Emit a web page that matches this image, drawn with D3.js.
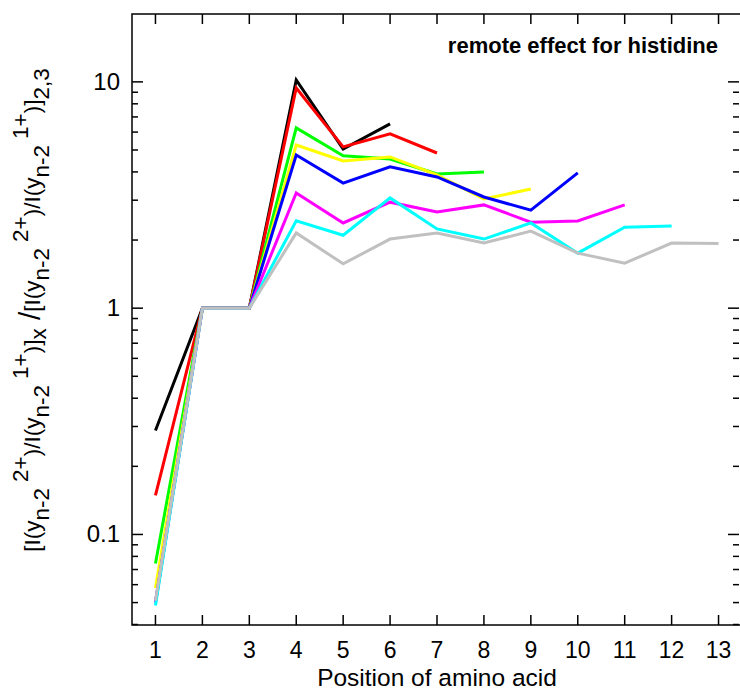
<!DOCTYPE html>
<html>
<head>
<meta charset="utf-8">
<script src="https://cdn.jsdelivr.net/npm/d3@7"></script>
<style>
  body { margin: 0; background: #fff; }
  svg { display: block; font-family: "Liberation Sans", Arial, sans-serif; }
</style>
</head>
<body>
<div id="chart"></div>
<script>
// positions of amino acid on the x axis
const positions = [1, 2, 3, 4, 5, 6, 7, 8, 9, 10, 11, 12, 13];
const xTicks = positions;
const yTicks = [0.1, 1, 10];

// one series per colour, each ending one position later than the previous
const blackVals   = [0.288, 1, 1, 10.2, 5.05, 6.52];
const redVals     = [0.149, 1, 1, 9.4, 5.16, 5.89, 4.85];
const greenVals   = [0.0744, 1, 1, 6.26, 4.71, 4.56, 3.92, 4.0];
const yellowVals  = [0.058, 1, 1, 5.26, 4.47, 4.66, 3.88, 3.04, 3.36];
const blueVals    = [0.050, 1, 1, 4.75, 3.57, 4.21, 3.80, 3.10, 2.71, 3.96];
const magentaVals = [0.050, 1, 1, 3.23, 2.38, 2.94, 2.66, 2.86, 2.40, 2.43, 2.86];
const cyanVals    = [0.0485, 1, 1, 2.43, 2.10, 3.07, 2.24, 2.02, 2.38, 1.75, 2.28, 2.31];
const grayVals    = [0.051, 1, 1, 2.15, 1.57, 2.02, 2.15, 1.94, 2.19, 1.75, 1.58, 1.94, 1.93];

const seriesColors = ["#000000", "#ff0000", "#00ff00", "#ffff00", "#0000ff", "#ff00ff", "#00ffff", "#c0c0c0"];
const seriesVals = [blackVals, redVals, greenVals, yellowVals, blueVals, magentaVals, cyanVals, grayVals];

const width = 740, height = 693;
const m = { left: 132, right: 742, top: 14, bottom: 625 };

const svg = d3.select("#chart").append("svg")
    .attr("width", width)
    .attr("height", height);

const x = d3.scaleLinear().domain([0.5, 13.5]).range([m.left, m.right]);
const y = d3.scaleLog().domain([0.0398, 19.95]).range([m.bottom, m.top]);

// minor log ticks 2..9 in each decade
const minorTicks = [];
[0.01, 0.1, 1, 10].forEach(dec => {
    for (let k = 2; k <= 9; k++) {
        const v = dec * k;
        if (v > y.domain()[0] && v < y.domain()[1]) minorTicks.push(v);
    }
});

const axisG = svg.append("g").attr("stroke", "#000").attr("stroke-width", 1.5);

// x ticks, bottom and top, pointing inward
axisG.append("g").selectAll("line").data(xTicks).join("line")
    .attr("x1", d => x(d)).attr("x2", d => x(d))
    .attr("y1", m.bottom).attr("y2", m.bottom - 10);
axisG.append("g").selectAll("line").data(xTicks).join("line")
    .attr("x1", d => x(d)).attr("x2", d => x(d))
    .attr("y1", m.top).attr("y2", m.top + 10);

// y ticks, left and right
[[m.left, 1], [m.right - 3, -1]].forEach(([x0, dir]) => {
    axisG.append("g").selectAll("line").data(yTicks).join("line")
        .attr("x1", x0).attr("x2", x0 + dir * 11)
        .attr("y1", d => y(d)).attr("y2", d => y(d));
    axisG.append("g").selectAll("line").data(minorTicks).join("line")
        .attr("x1", x0).attr("x2", x0 + dir * 6)
        .attr("y1", d => y(d)).attr("y2", d => y(d));
});

// lines
const line = d3.line()
    .x((d, i) => x(positions[i]))
    .y(d => y(d));

svg.append("g").attr("class", "lines")
    .selectAll("path")
    .data(seriesVals)
    .join("path")
    .attr("d", d => line(d))
    .attr("fill", "none")
    .attr("stroke", (d, i) => seriesColors[i])
    .attr("stroke-width", 3)
    .attr("stroke-linejoin", "miter");

// frame
svg.append("rect")
    .attr("x", m.left).attr("y", m.top)
    .attr("width", m.right - m.left).attr("height", m.bottom - m.top)
    .attr("fill", "none").attr("stroke", "#000").attr("stroke-width", 1.5);

// tick labels
svg.append("g").selectAll("text").data(xTicks).join("text")
    .attr("x", d => x(d)).attr("y", 658)
    .attr("text-anchor", "middle")
    .attr("font-size", 23)
    .text(d => d);

svg.append("g").selectAll("text").data(yTicks).join("text")
    .attr("x", 120).attr("y", d => y(d) + 8)
    .attr("text-anchor", "end")
    .attr("font-size", 24)
    .text(d => d);

svg.append("text")
    .attr("x", 437).attr("y", 686)
    .attr("text-anchor", "middle")
    .attr("font-size", 24.5)
    .text("Position of amino acid");

svg.append("text")
    .attr("x", 718).attr("y", 53)
    .attr("text-anchor", "end")
    .attr("font-size", 22)
    .attr("font-weight", "bold")
    .text("remote effect for histidine");

// y axis label with sub / superscripts
const ylab = svg.append("text")
    .attr("transform", "translate(40,310) rotate(-90)")
    .attr("text-anchor", "middle")
    .attr("font-size", 22.5);

const parts = [
    ["[I(y", 0], ["n-2", 9], ["2+", -12], [")/I(y", 0], ["n-2", 9], ["1+", -12], [")]", 0], ["x", 6],
    [" /", 0],
    ["[I(y", 0], ["n-2", 9], ["2+", -12], [")/I(y", 0], ["n-2", 9], ["1+", -12], [")]", 0], ["2,3", 9]
];
let prev = 0;
parts.forEach(([t, dy]) => {
    const ts = ylab.append("tspan").attr("dy", dy - prev).text(t);
    if (t === " /") ts.attr("font-size", 30);
    if (t === "2+" || t === "1+") ts.attr("dx", 6);
    prev = dy;
});
</script>
</body>
</html>
